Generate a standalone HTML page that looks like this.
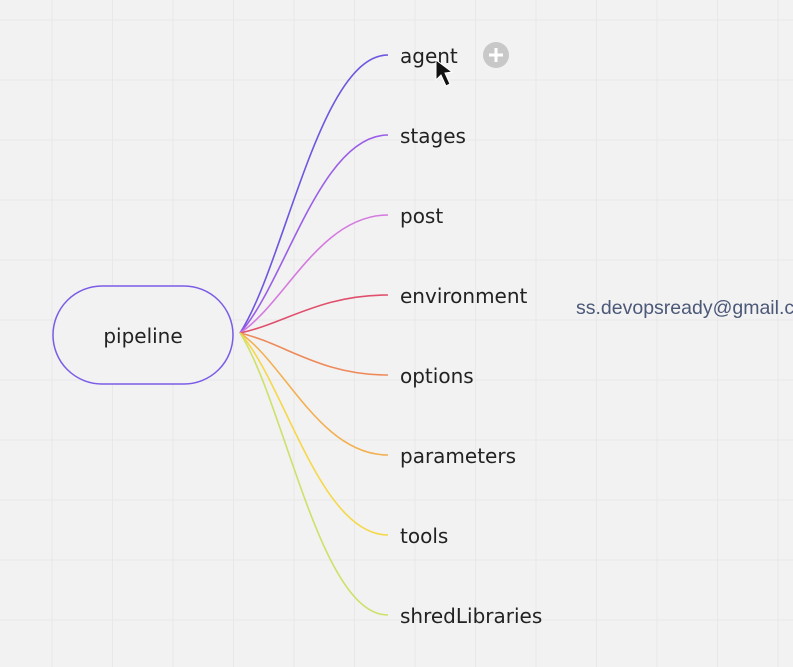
<!DOCTYPE html>
<html><head><meta charset="utf-8"><style>
html,body{margin:0;padding:0;background:#f2f2f2;}
svg{display:block;}
text{font-family:"DejaVu Sans","Liberation Sans",sans-serif;}
</style></head><body>
<svg id="map" width="793" height="667" viewBox="0 0 793 667" xmlns="http://www.w3.org/2000/svg">
<rect width="793" height="667" fill="#f2f2f2"/>
<g id="grid"></g>
<g id="branches"></g>
<rect x="53" y="286" width="180" height="98" rx="49" fill="#f2f2f2" stroke="#7b5ce6" stroke-width="1.5"/>
<text x="143" y="343" font-size="20" text-anchor="middle" fill="#222">pipeline</text>
<g id="labels"></g>
<g>
<circle cx="496" cy="55" r="13" fill="#c8c8c8"/>
<path d="M496 48v14M489 55h14" stroke="#fff" stroke-width="3"/>
</g>
<path d="M436 60 L436 80 L441 75 L446 86 L450 84 L445 73 L452 72 Z" fill="#111" stroke="#fff" stroke-width="1"/>
<text x="576" y="314" font-size="19.5" fill="#4b5878" style="font-family:'Liberation Sans',sans-serif">ss.devopsready@gmail.com</text>
</svg>
<script>
const childNames = ["agent","stages","post","environment","options","parameters","tools","shredLibraries"];
const childYs = [55,135,215,295,375,455,535,615];
const childColors = ["#6f55e0","#9b5ee8","#d57ae0","#e0506e","#ee8a5a","#f2b050","#f5d84a","#cfe06a"];
const NS="http://www.w3.org/2000/svg";
const grid=document.getElementById('grid');
for(let x=52;x<793;x+=60.5){const l=document.createElementNS(NS,'line');l.setAttribute('x1',x);l.setAttribute('x2',x);l.setAttribute('y1',0);l.setAttribute('y2',667);l.setAttribute('stroke','#e8e8e8');l.setAttribute('stroke-width','1');


grid.appendChild(l);}
for(let y=20;y<667;y+=60){const l=document.createElementNS(NS,'line');l.setAttribute('y1',y);l.setAttribute('y2',y);l.setAttribute('x1',0);l.setAttribute('x2',793);l.setAttribute('stroke','#e8e8e8');l.setAttribute('stroke-width','1');


grid.appendChild(l);}
const br=document.getElementById('branches'),lb=document.getElementById('labels');
const ox=240,oy=333,ex=388;
childNames.forEach((n,i)=>{
 const y=childYs[i];
 const p=document.createElementNS(NS,'path');
 p.setAttribute('d',`M${ox},${oy} C285,${oy+(y-oy)*0.25} 320,${y} ${ex},${y}`);
 p.setAttribute('fill','none');p.setAttribute('stroke',childColors[i]);p.setAttribute('stroke-width','1.6');
 
 
 br.appendChild(p);
 const t=document.createElementNS(NS,'text');
 t.setAttribute('x',400);t.setAttribute('y',y+8);t.setAttribute('font-size','20');t.setAttribute('fill','#222');
 t.textContent=n;
 
 
 lb.appendChild(t);
});
</script>
</body></html>
